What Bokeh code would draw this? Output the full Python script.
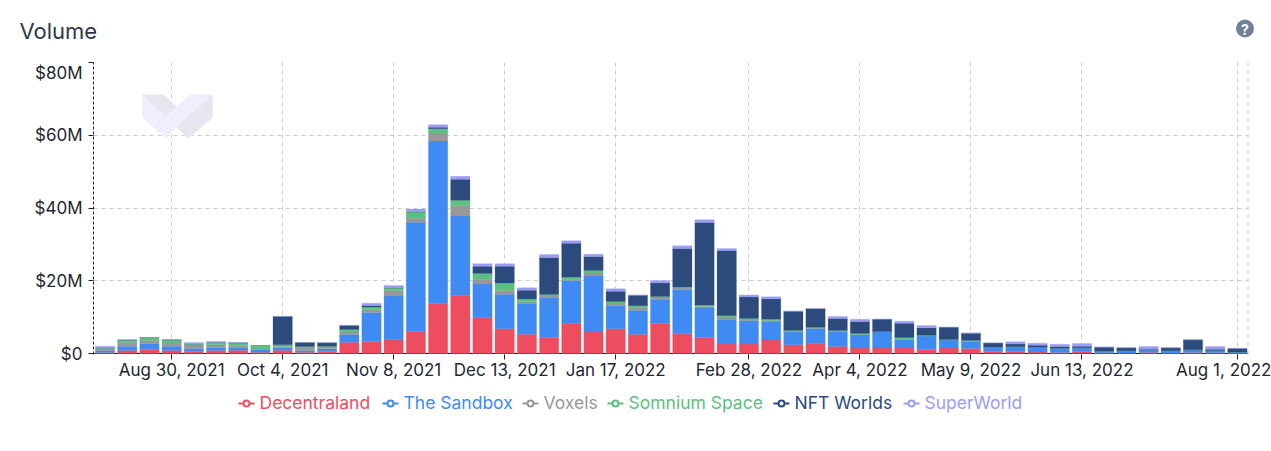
import numpy as np
import pandas as pd
from bokeh.core.properties import value
from bokeh.embed import file_html
from bokeh.layouts import column
from bokeh.resources import INLINE
from bokeh.plotting import figure
from bokeh.models import Range1d, FixedTicker, LinearAxis, PolyAnnotation, Span

start_week = "2021-08-09"
n_weeks = 52

decentraland = [.3,.8,1.1,.8,.55,.8,.9,.35,.9,.35,.65,3.1,3.3,3.8,6.05,13.7,16,9.8,6.8,5.3,4.4,8.3,5.9,6.8,5.3,8.3,
                5.4,4.3,2.6,2.6,3.7,2.4,2.8,1.9,1.5,1.5,1.5,1.1,1.5,1.4,.55,.5,.4,.3,.5,.2,.1,.3,.1,.3,.2,.1]
sandbox = [.5,1.2,1.65,1.2,.85,.85,.75,.75,.75,.45,.65,2.1,8,12,30.05,44.7,21.8,9.3,9.5,8.5,11,11.8,15.4,6.4,6.6,6.6,
           12.2,8.2,6.8,6.4,5.2,3.5,4.1,4.15,3.6,4.5,2.3,3.7,2.2,1.9,1.25,1.4,1.35,1.15,1.05,.45,.65,.7,.65,.7,.6,.3]
voxels = [.6,1.0,.85,.9,1.0,.75,.55,.05,.35,.95,.55,.7,.7,1.5,1.1,2.2,2.8,1.3,1,.4,.4,.3,.8,.7,.7,.6,
          .4,.4,.7,.2,.1,.1,.1,.1,.1,0,.1,.1,.05,0,0,0,0,0,0,0,0,0,0,0,0,0]
somnium = [.1,.7,.8,.85,.25,.7,.7,1.05,.4,.15,.15,.7,.75,.7,1.7,1.2,1.5,1.6,2.1,.8,.4,.6,.7,.4,.5,.2,
           .3,.4,.3,.4,.4,.3,.2,.15,.3,.05,.5,.1,.1,.3,0,0,0,0,0,0,0,0,0,0,0,0]
nft_worlds = [.1,0,0,0,0,0,0,0,7.8,1.1,.95,1.1,.45,.1,.1,.4,5.8,2,4.6,2.4,10.2,9.3,3.9,2.8,2.9,3.7,
              10.6,22.7,17.9,5.9,5.6,5.3,5.1,3.3,3.3,3.35,3.9,2.1,3.35,2,1.1,.7,.55,.45,.45,1.1,.8,.15,.8,2.75,.4,1.0]
superworld = [.4,.05,.05,.05,.35,.1,.1,0,0,0,0,.1,.6,.6,.7,.7,.8,.7,.7,.7,.8,.7,.6,.7,.1,.7,
              .7,.8,.6,.6,.6,.05,.05,.6,.6,.05,.6,.6,.05,.05,0,.6,.55,.65,.75,0,0,.75,0,0,.7,0]

series_names = ["Decentraland", "The Sandbox", "Voxels", "Somnium Space", "NFT Worlds", "SuperWorld"]
series_colors = ["#ee4d5f", "#3f8bf3", "#989898", "#5cc081", "#2c4a7c", "#9a9cf5"]
series_values = [decentraland, sandbox, voxels, somnium, nft_worlds, superworld]

x_tick_labels = ["Aug 30, 2021", "Oct 4, 2021", "Nov 8, 2021", "Dec 13, 2021", "Jan 17, 2022",
                 "Feb 28, 2022", "Apr 4, 2022", "May 9, 2022", "Jun 13, 2022", "Aug 1, 2022"]
y_ticks = [0, 20, 40, 60, 80]
y_tick_labels = ["$0", "$20M", "$40M", "$60M", "$80M"]
# where each y label is written: the top one sits just below its tick in the reference
y_label_at = [0, 20, 40, 60, 77.7]

FONT = "Inter"
TICK_COLOR = "#1f2733"
WEEK = 7 * 24 * 3600 * 1000
dates = pd.date_range(start_week, periods=n_weeks, freq="7D")
x = [d.timestamp() * 1000 for d in dates]
x_ticks = [pd.Timestamp(t).timestamp() * 1000 for t in x_tick_labels]

W = 1271
TOP_H, MAIN_H = 62, 323
LEG_H = 451 - TOP_H - MAIN_H
LEFT, RIGHT, BOTTOM = 93, 1248, 354
x0, x1 = x[0] - 0.52 * WEEK, x[-1] + 0.5 * WEEK
y0, y1 = -80 / 291.0, 80


def strip(height):
    """A full-bleed figure whose data space is simply its own pixels."""
    f = figure(width=W, height=height, output_backend="svg", toolbar_location=None,
               x_range=Range1d(0, W), y_range=Range1d(height, 0), x_axis_location=None, y_axis_location=None,
               min_border=0, min_border_left=0, min_border_right=0, min_border_top=0, min_border_bottom=0,
               background_fill_color="white", border_fill_color="white", outline_line_color=None,
               frame_align=False)
    f.grid.visible = False
    return f


# header
top = strip(TOP_H)
top.text(x=[19], y=[30], text=["Volume"], text_font=value(FONT), text_font_size="22px", text_color="#2d3748",
         text_baseline="middle", text_align="left")
top.scatter(x=[1244.5], y=[28], size=18, marker="circle", fill_color="#718096", line_color=None)
top.text(x=[1244.5], y=[28.5], text=["?"], text_font=value(FONT), text_font_size="14px", text_font_style="bold",
         text_color="white", text_baseline="middle", text_align="center")

# chart
p = figure(width=W, height=MAIN_H, output_backend="svg", toolbar_location=None,
           x_range=Range1d(x0, x1), y_range=Range1d(y0, y1),
           min_border_left=LEFT, min_border_right=W - RIGHT, min_border_top=0, min_border_bottom=TOP_H + MAIN_H - BOTTOM,
           background_fill_color="white", border_fill_color="white", outline_line_color=None,
           frame_align=False)


def dx(px):
    return x0 + (px - LEFT) / (RIGHT - LEFT) * (x1 - x0)


def dy(py):
    return y0 + (BOTTOM - py) / (BOTTOM - TOP_H) * (y1 - y0)


def mark(pts, color):
    p.add_layout(PolyAnnotation(xs=[float(dx(q[0])) for q in pts], ys=[float(dy(q[1])) for q in pts],
                                fill_color=color, fill_alpha=1, line_color=None, level="underlay"))


# watermark
mark([(142, 94), (163, 94), (176, 106), (190, 94), (212, 94), (212, 117), (188, 138), (176, 127), (165, 138), (142, 117)], "#f0edfc")
mark([(142, 94), (163, 94), (176, 106), (165, 116)], "#e8e5ee")
mark([(212, 94), (212, 117), (188, 138), (176, 127)], "#e8e5ee")

p.add_layout(Span(location=0, dimension="width", line_color="#1a202c", line_width=1, level="underlay"))

bottom = np.zeros(n_weeks)
for vals, color in zip(series_values, series_colors):
    v = np.array(vals, dtype=float)
    p.vbar(x=x, bottom=bottom, top=bottom + v, width=0.87 * WEEK, fill_color=color,
           line_color=color, line_alpha=0.25, line_width=1)
    bottom = bottom + v

p.grid.grid_line_color = "#cbcbcb"
p.grid.grid_line_dash = "4 4"
p.grid.grid_line_width = 1
p.xaxis.ticker = FixedTicker(ticks=x_ticks)
p.xaxis.major_label_overrides = {t: l for t, l in zip(x_ticks, x_tick_labels)}
p.xgrid.ticker = FixedTicker(ticks=x_ticks)
p.ygrid.ticker = FixedTicker(ticks=y_ticks)

xa = p.xaxis[0]
xa.major_label_text_font = FONT
xa.major_label_text_font_size = "17px"
xa.major_label_text_color = TICK_COLOR
xa.major_tick_line_color = "#1a202c"
xa.major_tick_in = 0
xa.major_tick_out = 5
xa.minor_tick_line_color = None
xa.axis_line_color = None
xa.major_label_standoff = 0

# inner y axis: rule and tick marks
ya = p.yaxis[0]
ya.ticker = FixedTicker(ticks=y_ticks)
ya.major_label_overrides = {t: "" for t in y_ticks}
ya.major_label_standoff = 0
ya.major_label_text_font_size = "1px"
ya.axis_line_color = "#1a202c"
ya.axis_line_dash = "3 2"
ya.major_tick_line_color = "#1a202c"
ya.major_tick_in = 0
ya.major_tick_out = 5
ya.minor_tick_line_color = None

# outer y axis: the labels
yl = LinearAxis(ticker=FixedTicker(ticks=y_label_at),
                major_label_overrides={t: l for t, l in zip(y_label_at, y_tick_labels)},
                major_label_text_font=FONT, major_label_text_font_size="17px", major_label_text_color=TICK_COLOR,
                axis_line_color=None, major_tick_line_color=None, minor_tick_line_color=None,
                major_tick_in=0, major_tick_out=0, major_label_standoff=6)
p.add_layout(yl, "left")

p.add_layout(Span(location=x1, dimension="height", line_color="#cbcbcb",
                  line_dash="4 4", line_width=2, level="underlay"))

# legend strip, each label in its series colour
leg = strip(LEG_H)
legend_x = [238, 382, 522, 607, 773, 903]
LY = 403 - TOP_H - MAIN_H
for name, color, lx in zip(series_names, series_colors, legend_x):
    leg.line(x=[lx, lx + 16], y=[LY, LY], line_color=color, line_width=2)
    leg.scatter(x=[lx + 8], y=[LY], size=6, marker="circle", fill_color="white", line_color=color, line_width=2)
    leg.text(x=[lx + 21], y=[LY - 1], text=[name], text_font=value(FONT), text_font_size="17.5px", text_color=color,
             text_baseline="middle", text_align="left")

layout = column(top, p, leg, spacing=0)
open("out.html", "w").write(file_html(layout, INLINE))
